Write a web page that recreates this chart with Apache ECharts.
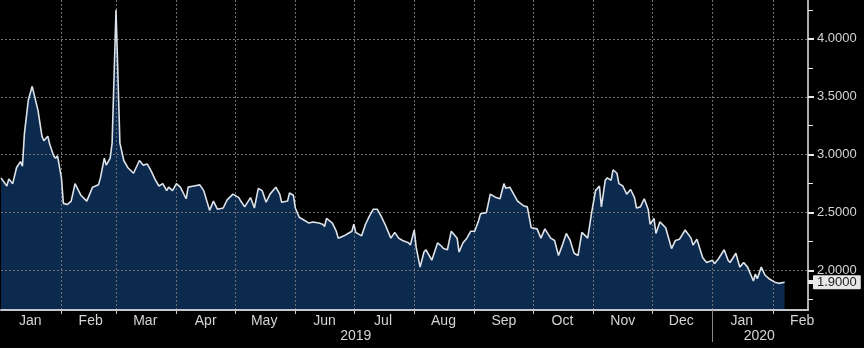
<!DOCTYPE html>
<html>
<head>
<meta charset="utf-8">
<script src="https://cdn.jsdelivr.net/npm/echarts@6.0.0/dist/echarts.min.js"></script>
<style>
    html, body {margin: 0; padding: 0; background: #000;}
    #chart {width: 864px; height: 348px;}
</style>
</head>
<body>
<div id="chart"></div>
<script>
// days after 1 Jan 2019
const obsDay = [
    0, 1, 3, 4, 6, 8, 10, 11, 12, 14, 16, 17, 19, 21, 22, 24, 25, 27, 28, 29,
    31, 32, 34, 36, 38, 41, 44, 45, 47, 50, 51, 53, 54, 56, 57, 59, 61, 63, 65, 68,
    71, 73, 75, 77, 79, 81, 83, 85, 86, 88, 90, 92, 95, 96, 99, 102, 104, 107, 109, 111,
    114, 116, 117, 119, 122, 123, 125, 126, 128, 130, 132, 134, 136, 138, 141, 143, 144, 147, 148, 150,
    151, 153, 156, 158, 160, 163, 165, 166, 167, 170, 172, 173, 176, 178, 180, 181, 182, 185, 187, 189,
    191, 193, 195, 197, 200, 202, 204, 206, 209, 210, 212, 213, 215, 217, 218, 221, 224, 226, 227, 229,
    231, 234, 235, 237, 239, 241, 243, 245, 246, 249, 251, 254, 256, 258, 259, 261, 263, 265, 266, 268,
    270, 272, 275, 277, 279, 282, 284, 286, 288, 290, 292, 294, 296, 298, 299, 301, 303, 305, 307, 308,
    310, 311, 313, 314, 316, 317, 319, 321, 323, 325, 326, 328, 330, 332, 333, 335, 336, 338, 341, 344,
    346, 348, 351, 354, 355, 357, 360, 362, 365, 366, 368, 371, 373, 374, 377, 379, 381, 383, 386, 387,
    388, 390, 392, 394, 397, 399, 402
]
const yields = [
    2.80, 2.81, 2.73, 2.79, 2.75, 2.89, 2.94, 2.90, 3.18, 3.47, 3.59, 3.58, 3.38, 3.16, 3.12, 3.16, 3.09, 2.99, 2.97, 2.99,
    2.80, 2.58, 2.57, 2.60, 2.75, 2.65, 2.60, 2.61, 2.72, 2.74, 2.80, 2.97, 2.91, 2.97, 3.10, 4.25, 3.10, 2.95, 2.89, 2.84,
    2.95, 2.91, 2.92, 2.86, 2.79, 2.73, 2.75, 2.69, 2.72, 2.69, 2.75, 2.72, 2.62, 2.72, 2.73, 2.74, 2.69, 2.52, 2.60, 2.53,
    2.54, 2.61, 2.60, 2.66, 2.63, 2.60, 2.55, 2.56, 2.63, 2.54, 2.71, 2.69, 2.59, 2.66, 2.72, 2.66, 2.59, 2.60, 2.67, 2.65,
    2.54, 2.46, 2.43, 2.41, 2.42, 2.41, 2.40, 2.38, 2.45, 2.41, 2.34, 2.28, 2.30, 2.32, 2.34, 2.40, 2.33, 2.30, 2.40, 2.47,
    2.53, 2.53, 2.47, 2.40, 2.28, 2.33, 2.28, 2.26, 2.24, 2.22, 2.35, 2.20, 2.03, 2.16, 2.18, 2.09, 2.24, 2.21, 2.19, 2.18,
    2.34, 2.28, 2.16, 2.24, 2.28, 2.34, 2.34, 2.43, 2.49, 2.50, 2.66, 2.63, 2.62, 2.75, 2.71, 2.72, 2.66, 2.60, 2.59, 2.56,
    2.55, 2.37, 2.36, 2.28, 2.36, 2.28, 2.26, 2.13, 2.22, 2.32, 2.26, 2.15, 2.13, 2.33, 2.33, 2.28, 2.50, 2.69, 2.73, 2.55,
    2.78, 2.80, 2.78, 2.87, 2.84, 2.75, 2.73, 2.66, 2.70, 2.63, 2.54, 2.55, 2.62, 2.53, 2.40, 2.45, 2.32, 2.42, 2.37, 2.19,
    2.26, 2.27, 2.35, 2.28, 2.22, 2.27, 2.11, 2.07, 2.09, 2.06, 2.10, 2.18, 2.09, 2.07, 2.15, 2.03, 2.07, 2.03, 1.91, 1.97,
    1.93, 2.03, 1.96, 1.93, 1.90, 1.89, 1.90
]
const yTicks = [2.0, 2.5, 3.0, 3.5, 4.0]
const yMinorTicks = [1.75, 2.25, 2.75, 3.25, 3.75, 4.25]
const monthNames = ['Jan', 'Feb', 'Mar', 'Apr', 'May', 'Jun', 'Jul', 'Aug', 'Sep', 'Oct', 'Nov', 'Dec']
const yearLabelDays = ['2019-07-02', '2020-01-25']
const yearBreak = '2020-01-01'

// one category per calendar day
const days = []
for (let t = Date.UTC(2019, 0, 1); t <= Date.UTC(2020, 1, 19); t += 86400000) {
    days.push(new Date(t).toISOString().slice(0, 10))
}

const seriesData = obsDay.map((d, i) => [days[d], yields[i]])
const lastValue = yields[yields.length - 1]

const labelFont = {fontFamily: 'Liberation Sans', fontSize: 13, color: '#d4d4d4'}
const gridLine = {show: true, lineStyle: {color: '#6f6f6f', type: [2, 2], width: 1}}
const yMin = 1.66
const yMax = 4.335

const option = {
    backgroundColor: '#000',
    animation: false,
    grid: {left: 1, right: 56, top: 0, bottom: 38},
    xAxis: [
        {
            type: 'category',
            data: days,
            boundaryGap: false,
            position: 'bottom',
            z: 3,
            axisLine: {lineStyle: {color: '#c4c7cb', width: 2}},
            axisTick: {
                interval: (i, v) => i > 0 && v.slice(8) === '01',
                length: 4,
                lineStyle: {color: '#c4c7cb'}
            },
            axisLabel: Object.assign({
                interval: (i, v) => v.slice(8) === '16',
                formatter: v => monthNames[Number(v.slice(5, 7)) - 1],
                margin: 4
            }, labelFont, {fontSize: 14}),
            splitLine: Object.assign({interval: (i, v) => i > 0 && v.slice(8) === '01'}, gridLine)
        },
        {
            type: 'category',
            data: days,
            boundaryGap: false,
            position: 'bottom',
            z: 3,
            axisLine: {show: false},
            axisTick: {
                interval: (i, v) => v === yearBreak,
                length: 32,
                lineStyle: {color: '#8a8a8a'}
            },
            axisLabel: Object.assign({
                interval: (i, v) => yearLabelDays.indexOf(v) >= 0,
                formatter: v => v.slice(0, 4),
                margin: 19
            }, labelFont, {fontSize: 14}),
            splitLine: {show: false}
        }
    ],
    yAxis: [
        {
            type: 'value',
            position: 'right',
            min: yMin,
            max: yMax,
            z: 3,
            axisLine: {show: true, lineStyle: {color: '#e6e6e6', width: 1.5}},
            axisTick: {show: true, customValues: yTicks, length: 6, lineStyle: {color: '#e6e6e6', width: 2}},
            axisLabel: Object.assign({
                customValues: yTicks,
                formatter: v => v.toFixed(4),
                margin: 9
            }, labelFont),
            splitLine: gridLine
        },
        {
            type: 'value',
            position: 'right',
            offset: 0,
            min: yMin,
            max: yMax,
            z: 3,
            axisLine: {show: false},
            axisTick: {show: true, customValues: yMinorTicks, length: 5, lineStyle: {color: '#e6e6e6'}},
            axisLabel: {show: false},
            splitLine: {show: false}
        },
        {
            type: 'value',
            position: 'right',
            offset: 0,
            min: yMin,
            max: yMax,
            z: 6,
            axisLine: {show: false},
            axisTick: {show: true, customValues: [lastValue], length: 6, lineStyle: {color: '#e8e8e8', width: 4}},
            axisLabel: {
                customValues: [lastValue],
                formatter: v => v.toFixed(4),
                margin: 5,
                fontFamily: 'Liberation Sans',
                fontSize: 13,
                color: '#222',
                backgroundColor: '#e8e8e8',
                padding: [1, 4, 0, 4],
                borderRadius: 1
            },
            splitLine: {show: false}
        }
    ],
    series: [
        {
            type: 'line',
            data: seriesData,
            z: 1,
            symbol: 'none',
            lineStyle: {width: 0},
            areaStyle: {color: '#0c2a4e', opacity: 1}
        },
        {
            type: 'line',
            data: seriesData,
            z: 5,
            symbol: 'none',
            lineStyle: {color: '#dde2e8', width: 1.6}
        }
    ]
}

const chart = echarts.init(document.getElementById('chart'))
chart.setOption(option)
</script>
</body>
</html>
